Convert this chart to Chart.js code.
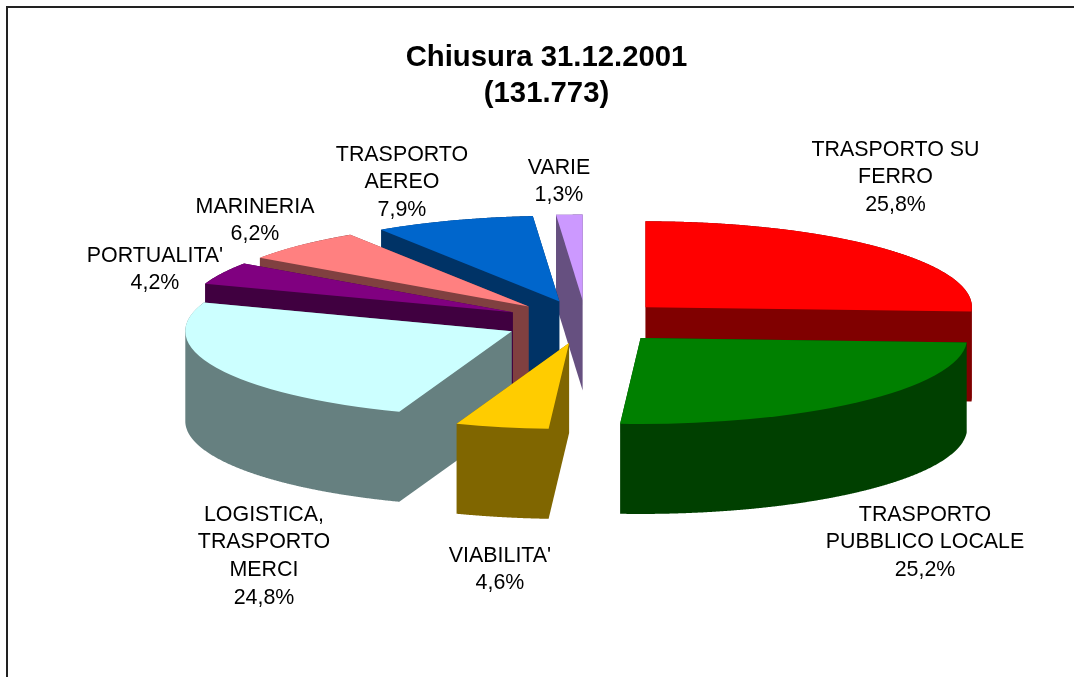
<!DOCTYPE html>
<html>
<head>
<meta charset="utf-8">
<style>html,body{margin:0;padding:0;background:#fff;overflow:hidden}canvas{display:block}</style>
<script src="https://cdn.jsdelivr.net/npm/chart.js@4/dist/chart.umd.min.js"></script>
</head>
<body>
<canvas id="c" width="1074" height="677"></canvas>
<script>
const titleLines = ["Chiusura 31.12.2001", "(131.773)"];
const categories = [
  ["TRASPORTO SU", "FERRO"],
  ["TRASPORTO", "PUBBLICO LOCALE"],
  ["VIABILITA'"],
  ["LOGISTICA,", "TRASPORTO", "MERCI"],
  ["PORTUALITA'"],
  ["MARINERIA"],
  ["TRASPORTO", "AEREO"],
  ["VARIE"]
];
const shares = [25.8, 25.2, 4.6, 24.8, 4.2, 6.2, 7.9, 1.3];
const topColors = ["#FF0000", "#008000", "#FFCC00", "#CCFFFF", "#800080", "#FF8080", "#0066CC", "#CC99FF"];
const wallColors = ["#800000", "#004000", "#806600", "#668080", "#400040", "#804040", "#003366", "#665080"];

// layout only
const paintOrder = [7, 6, 5, 4, 3, 0, 1, 2];
const labelCenters = [[895.5, 150], [925, 515], [500, 556], [264, 515], [155, 256], [255, 207], [402, 155], [559, 168]];
const PIE_X = 586, PIE_Y = 322, RADIUS = 326.5, TILT = 0.263, EXPLODE = 82, DEPTH = 90, LINE = 27.6;

// Outline of a slice swept straight down: slices under 180 degrees are convex, so the hull is exact.
function sweptOutline(s, e, r, drop) {
  const pts = [[0, 0], [0, drop]];
  const n = Math.ceil((e - s) / 0.003);
  for (let k = 0; k <= n; k++) {
    const a = s + (e - s) * k / n;
    const x = r * Math.cos(a), y = r * Math.sin(a);
    pts.push([x, y], [x, y + drop]);
  }
  pts.sort((p, q) => p[0] - q[0] || p[1] - q[1]);
  const cross = (o, a, b) => (a[0] - o[0]) * (b[1] - o[1]) - (a[1] - o[1]) * (b[0] - o[0]);
  const half = list => {
    const h = [];
    for (const p of list) {
      while (h.length > 1 && cross(h[h.length - 2], h[h.length - 1], p) <= 0) h.pop();
      h.push(p);
    }
    h.pop();
    return h;
  };
  return half(pts).concat(half(pts.slice().reverse()));
}

const pie3d = {
  id: 'pie3d',
  beforeDraw(chart) {
    const c = chart.ctx;
    c.save();
    c.fillStyle = '#fff';
    c.fillRect(0, 0, chart.width, chart.height);
    c.strokeStyle = '#222';
    c.lineWidth = 2;
    c.beginPath();
    c.moveTo(7, chart.height);
    c.lineTo(7, 7);
    c.lineTo(chart.width, 7);
    c.stroke();
    c.restore();
  },
  beforeDatasetDraw(chart, args) {
    const c = chart.ctx;
    const arcs = chart.getDatasetMeta(args.index).data;
    paintOrder.forEach(i => {
      const el = arcs[i];
      const mid = (el.startAngle + el.endAngle) / 2;
      c.save();
      c.translate(PIE_X, PIE_Y);
      c.scale(1, TILT);
      c.translate(Math.cos(mid) * EXPLODE, Math.sin(mid) * EXPLODE);
      c.fillStyle = wallColors[i];
      c.beginPath();
      sweptOutline(el.startAngle, el.endAngle, el.outerRadius, DEPTH / TILT)
        .forEach((p, k) => k ? c.lineTo(p[0], p[1]) : c.moveTo(p[0], p[1]));
      c.closePath();
      c.fill();
      c.translate(-el.x, -el.y);
      el.draw(c);
      c.restore();
    });
    return false;
  },
  afterDatasetsDraw(chart) {
    const c = chart.ctx;
    c.save();
    c.font = '21.4px "Liberation Sans", Arial, sans-serif';
    c.fillStyle = '#000';
    c.textAlign = 'center';
    c.textBaseline = 'middle';
    categories.forEach((lines, i) => {
      const [x, y] = labelCenters[i];
      const all = lines.concat(shares[i].toFixed(1).replace('.', ',') + '%');
      all.forEach((t, n) => c.fillText(t, x, y + n * LINE));
    });
    c.restore();
  }
};

new Chart(document.getElementById('c'), {
  type: 'pie',
  data: {
    labels: categories.map(l => l.join(' ')),
    datasets: [{ data: shares, backgroundColor: topColors, borderWidth: 0 }]
  },
  options: {
    responsive: false,
    animation: false,
    radius: RADIUS,
    layout: { padding: { left: 19, top: 40 } },
    plugins: {
      legend: { display: false },
      tooltip: { enabled: false },
      title: {
        display: true,
        text: titleLines,
        color: '#000',
        font: { family: '"Liberation Sans", Arial, sans-serif', size: 29.3, weight: 'bold', lineHeight: 1.23 },
        padding: 0
      }
    }
  },
  plugins: [pie3d]
});
</script>
</body>
</html>
